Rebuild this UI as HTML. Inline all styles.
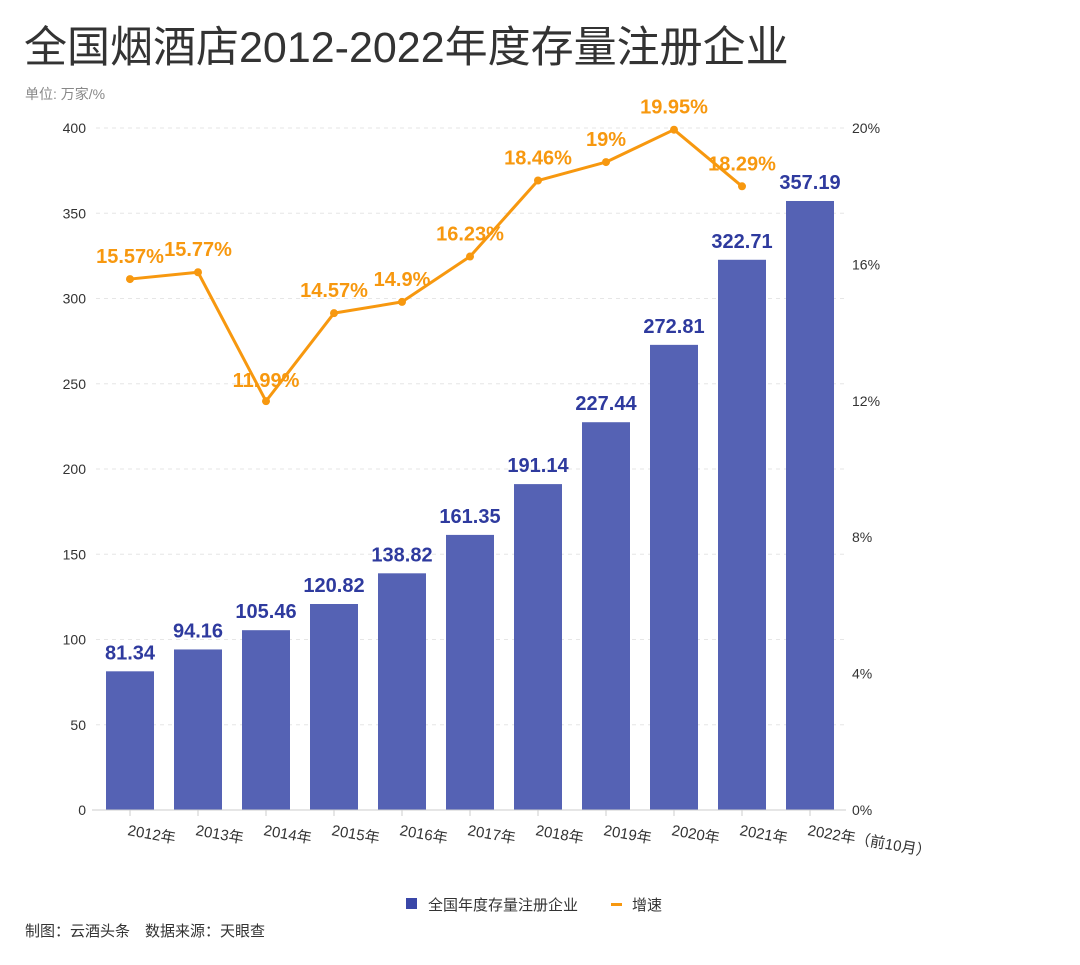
<!DOCTYPE html>
<html><head><meta charset="utf-8">
<style>
body{margin:0;background:#fff;width:1080px;height:960px;overflow:hidden;font-family:"Liberation Sans","Noto Sans CJK SC",sans-serif;}
svg text{font-family:"Liberation Sans","Noto Sans CJK SC",sans-serif;}
</style></head>
<body>
<svg id="chart" width="1080" height="960" xmlns="http://www.w3.org/2000/svg">
<text x="24" y="62" font-size="43" fill="#333">全国烟酒店2012-2022年度存量注册企业</text>
<text x="25" y="99" font-size="14" fill="#888">单位: 万家/%</text>
<g id="grid"></g><g id="bars"></g><g id="line"></g><g id="axes"></g>
<g>
<rect x="406" y="898" width="11" height="11" fill="#3a47a8"/>
<text x="428" y="910" font-size="15" fill="#333">全国年度存量注册企业</text>
<rect x="611" y="903" width="11" height="3" fill="#f7980f"/>
<text x="632" y="910" font-size="15" fill="#333">增速</text>
</g>
<text x="25" y="936" font-size="15" fill="#333">制图：云酒头条　数据来源：天眼查</text>
</svg>
<script>
const categories=["2012年","2013年","2014年","2015年","2016年","2017年","2018年","2019年","2020年","2021年","2022年（前10月）"];
const counts=[81.34,94.16,105.46,120.82,138.82,161.35,191.14,227.44,272.81,322.71,357.19];
const growth=[15.57,15.77,11.99,14.57,14.9,16.23,18.46,19,19.95,18.29];
const leftTicks=[0,50,100,150,200,250,300,350,400];
const rightTicks=[0,4,8,12,16,20];
const NS="http://www.w3.org/2000/svg";
const X0=96,STEP=68,Y0=810,H=682;
const xc=i=>X0+STEP*i+34;
const yL=v=>Y0-v/400*H;
const yR=v=>Y0-v/20*H;
function mk(tag,attrs,parent,text){const e=document.createElementNS(NS,tag);for(const k in attrs)e.setAttribute(k,attrs[k]);if(text!==undefined)e.textContent=text;parent.appendChild(e);return e;}
const grid=document.getElementById('grid'),bars=document.getElementById('bars'),line=document.getElementById('line'),axes=document.getElementById('axes');
leftTicks.forEach(t=>{
 if(t>0){const g=mk('line',{x1:X0,x2:844,y1:yL(t),y2:yL(t),stroke:'#e6e6e6','stroke-dasharray':'4,4'},grid);
 
 }
 const l=mk('text',{x:86,y:yL(t)+5,'font-size':14,fill:'#333','text-anchor':'end'},axes,String(t));
 
 
});
rightTicks.forEach(t=>{
 const l=mk('text',{x:852,y:yR(t)+5,'font-size':14,fill:'#333'},axes,t+'%');
 
 
});
const ax=mk('line',{x1:X0-4,x2:846,y1:Y0,y2:Y0,stroke:'#ccc'},axes);


categories.forEach((c,i)=>{
 const tk=mk('line',{x1:xc(i),x2:xc(i),y1:Y0,y2:Y0+6,stroke:'#ccc'},axes);
 
 
 const x=xc(i)-3,y=Y0+25;
 const t=mk('text',{x:x,y:y,'font-size':15,fill:'#333','text-anchor':'start',transform:`rotate(10 ${x} ${y})`},axes,c);
 
 
});
counts.forEach((v,i)=>{
 const b=mk('rect',{x:xc(i)-24,y:yL(v),width:48,height:Y0-yL(v),fill:'#5562b4'},bars);
 
 
 const t=mk('text',{x:xc(i),y:yL(v)-12,'font-size':20,'font-weight':'bold',fill:'#2e3a9e','text-anchor':'middle'},bars,String(v));
 
 
});
const pts=growth.map((v,i)=>xc(i)+','+yR(v)).join(' ');
const pl=mk('polyline',{points:pts,fill:'none',stroke:'#f7980f','stroke-width':3,'stroke-linejoin':'round'},line);


growth.forEach((v,i)=>{
 const c=mk('circle',{cx:xc(i),cy:yR(v),r:4,fill:'#f7980f'},line);
 
 
 const t=mk('text',{x:xc(i),y:yR(v)-16,'font-size':20,'font-weight':'bold',fill:'#f7980f','text-anchor':'middle'},line,v+'%');
 
 
 if(i===2)t.setAttribute('y',yR(v)-14);
});
</script>
</body></html>
